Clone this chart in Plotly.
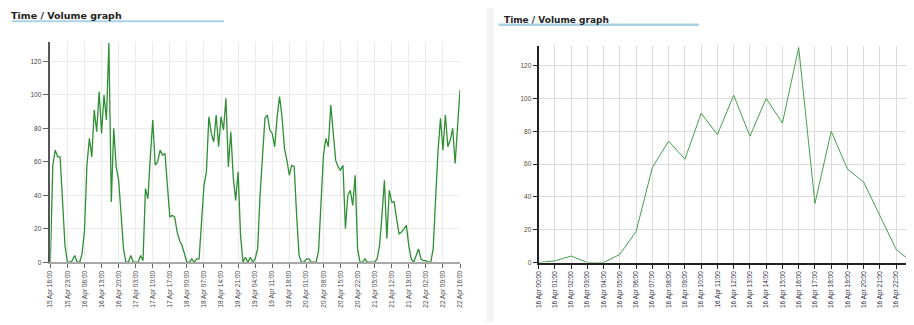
import plotly.graph_objects as go
import pandas as pd

# page has an 8px body margin: figure is drawn from page pixel (8, 8)
OFF = 8
W, H = 914 - OFF, 325 - OFF

# ---- data ----
week_start = "2024-04-15 16:00"
week_end = "2024-04-22 16:00"
week_volume = [
    0, 58, 67, 63, 63, 38, 10, 0,
    0, 1, 4, 0, 0, 5, 19, 58, 74, 63, 91, 78, 102, 77, 100, 85, 131, 36, 80, 57, 49, 29, 8, 0,
    0, 4, 0, 0, 0, 4, 1, 44,
    38, 63, 85, 58, 60, 67, 64, 65,
    45, 27, 28, 27, 18, 13, 10, 5,
    0, 0, 2, 0, 2, 2, 24, 46,
    54, 87, 77, 72, 88, 69, 87, 79,
    98, 57, 78, 51, 37, 54, 16, 0,
    3, 0, 3, 0, 2, 8, 40, 67,
    86, 88, 79, 77, 69, 87, 99, 87,
    68, 61, 52, 58, 57, 28, 4, 0,
    0, 2, 2, 0, 0, 0, 7, 40,
    64, 74, 69, 94, 75, 61, 57, 55,
    58, 20, 40, 43, 34, 52, 8, 0,
    0, 2, 0, 0, 0, 0, 2, 10,
    28, 49, 14, 43, 36, 36, 26, 17,
    18, 20, 22, 10, 2, 0, 4, 8,
    2, 1, 1, 0, 0, 8, 38, 67,
    86, 67, 88, 69, 73, 80, 59, 82,
    103,
]
day_start = "2024-04-16 00:00"
day_volume = [0, 1, 4, 0, 0, 5, 19, 58, 74, 63, 91, 78, 102, 77, 100, 85,
              131, 36, 80, 57, 49, 29, 8, 0]
y_ticks = [0, 20, 40, 60, 80, 100, 120]
title_text = "Time / Volume graph"

week_times = pd.date_range(week_start, periods=len(week_volume), freq="h")
day_times = pd.date_range(day_start, periods=len(day_volume), freq="h")
week_ticks = pd.date_range(week_start, week_end, freq="7h")
week_ticktext = [t.strftime("%d %b %H:%M") for t in week_ticks]
day_ticktext = [t.strftime("%d %b %H:%M") for t in day_times]


def fx(px):
    """page pixel x -> paper fraction"""
    return (px - OFF) / W


def fy(py):
    """page pixel y -> paper fraction"""
    return 1 - (py - OFF) / H


fig = go.Figure()
fig.add_trace(go.Scatter(x=week_times, y=week_volume, mode="lines",
                         line=dict(color="#2f8f35", width=1.3),
                         xaxis="x", yaxis="y", hoverinfo="skip"))
fig.add_trace(go.Scatter(x=day_times, y=day_volume, mode="lines",
                         line=dict(color="#45a04c", width=1),
                         xaxis="x2", yaxis="y2", hoverinfo="skip"))

tickfont = dict(family="Liberation Sans, Arial, sans-serif", size=6.5, color="#444")

# right x range: plot area is cut at the window edge
px_per_hour = 16.4
right_hours = (914 - 539.3) / px_per_hour
day_end_view = day_times[0] + pd.Timedelta(hours=right_hours)

fig.update_layout(
    width=W, height=H,
    margin=dict(l=0, r=0, t=0, b=0),
    paper_bgcolor="white", plot_bgcolor="white",
    showlegend=False,
    xaxis=dict(domain=[fx(46.7), fx(460)], type="date", anchor="y",
               range=[week_times[0], week_times[-1]],
               tickmode="array", tickvals=list(week_ticks), ticktext=week_ticktext,
               tickangle=-90, tickfont=tickfont,
               showgrid=True, gridcolor="#ebebeb", gridwidth=1,
               showline=True, linecolor="#a8a8a8", linewidth=2,
               ticks="outside", ticklen=4, tickcolor="#666", zeroline=False),
    yaxis=dict(domain=[fy(264.7), fy(42)], anchor="x", range=[0, 131.8],
               tickmode="array", tickvals=y_ticks, tickfont=tickfont,
               showgrid=True, gridcolor="#ebebeb", gridwidth=1,
               showline=True, linecolor="#555", linewidth=1.5,
               ticks="outside", ticklen=6, tickcolor="#666", zeroline=False),
    xaxis2=dict(domain=[fx(539.3), 1], type="date", anchor="y2",
                range=[day_times[0], day_end_view],
                tickmode="array", tickvals=list(day_times), ticktext=day_ticktext,
                tickangle=-90, tickfont=dict(family="Liberation Sans, Arial, sans-serif",
                                             size=6.5, color="#2a2a3a"),
                showgrid=True, gridcolor="#dcdcdc", gridwidth=1,
                showline=True, linecolor="#222", linewidth=2,
                ticks="outside", ticklen=4, tickcolor="#222", zeroline=False),
    yaxis2=dict(domain=[fy(265), fy(46)], anchor="x2", range=[0, 132.2],
                tickmode="array", tickvals=y_ticks,
                tickfont=dict(family="Liberation Sans, Arial, sans-serif",
                              size=6.5, color="#5a4a2a"),
                showgrid=True, gridcolor="#dcdcdc", gridwidth=1,
                showline=True, linecolor="#222", linewidth=2,
                ticks="outside", ticklen=4, tickcolor="#222", zeroline=False),
    annotations=[
        dict(xref="paper", yref="paper", x=fx(5), y=fy(15.5), xanchor="left",
             yanchor="middle", showarrow=False, text="<b>" + title_text + "</b>",
             font=dict(family="DejaVu Sans, Verdana, sans-serif", size=9.5, color="#222")),
        dict(xref="paper", yref="paper", x=fx(502), y=fy(20), xanchor="left",
             yanchor="middle", showarrow=False, text="<b>" + title_text + "</b>",
             font=dict(family="DejaVu Sans, Verdana, sans-serif", size=9, color="#222")),
    ],
    shapes=[
        dict(type="line", xref="paper", yref="paper", x0=fx(8), x1=fx(222),
             y0=fy(21.5), y1=fy(21.5), line=dict(color="#a9d3e4", width=2)),
        dict(type="line", xref="paper", yref="paper", x0=fx(499), x1=fx(701),
             y0=fy(25), y1=fy(25), line=dict(color="#a9d3e4", width=2.5)),
        dict(type="rect", xref="paper", yref="paper", x0=fx(487), x1=fx(494),
             y0=0, y1=1, line=dict(width=0), fillcolor="#f4f4f4", layer="below"),
    ],
)

fig.write_html("out.html")
